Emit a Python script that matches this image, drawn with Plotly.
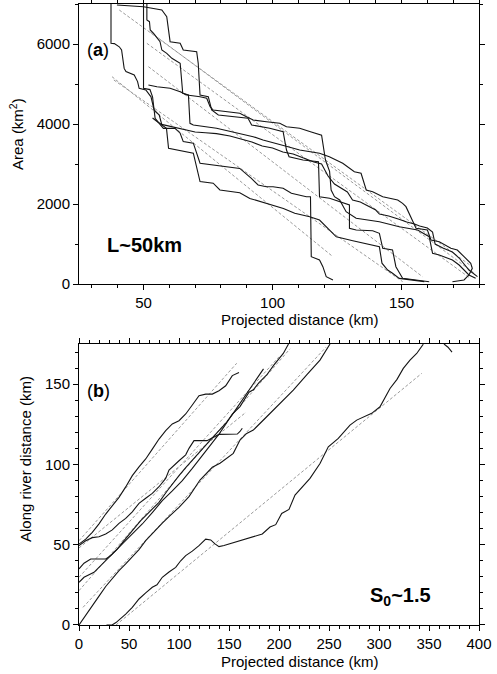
import plotly.graph_objects as go

# ---------------- Panel (a): Area vs projected distance ----------------
a1_x = [37.4,37.4,38.7,40.6,41.5,42.5,43.2,46.4,47.7,48.3,50.9,52.9,54.1,56.1,57.1,58.9,59.7,66.8,69.3,71.9,77.0,79.6,84.7,87.3,91.2,98.9,104.2,108.6,114.4,118.2,120.8,124.7,131.1,138.8,141.4,142.4,144.6,146.5,149.1,158.8]
a1_y = [7000,6020,6010,5930,5850,5390,5310,5225,5060,4890,4850,4680,4350,4225,3975,3890,3390,3310,3270,2560,2520,2350,2310,2280,2140,2000,1890,1770,1680,1600,1430,1180,1080,975,930,520,350,270,140,60]

a2_x = [50.0,50.0,52.5,53.5,54.5,57.7,62.2,64.2,65.4,69.3,71.9,78.3,83.5,87.3,91.8,94.4,97.6,100.2,104.1,107.3,113.1,114.7,115.0,118.2,119.5,120.8,123.4]
a2_y = [7000,4890,4860,4680,4140,3890,3890,3770,3560,3520,3020,2960,2930,2890,2640,2475,2433,2433,2392,2267,2183,2183,683,600,433,183,100]

a3_x = [39.7,50.0,57.1,59.0,60.3,64.2,65.4,70.6,71.2,71.9,75.1,76.4,79.0,84.7,90.5,91.9,98.9,104.1,105.4,106.4,111.8,117.8,118.2,122.1,126.0,128.0,129.8,129.8,132.4,138.8,141.4,142.7,146.5,147.8,150.4,160.7]
a3_y = [6975,6933,6850,6683,6058,6017,5850,5808,5517,4725,4683,4350,4225,4183,4142,3975,3892,3808,3350,3183,3100,3058,2183,2142,2050,2000,1975,1392,1350,1330,1267,892,850,433,142,58]

a4_x = [51.3,51.3,52.3,52.6,53.9,56.4,57.1,59.0,61.0,64.2,65.2,67.4,68.0,69.3,78.3,84.1,88.6,92.5,96.3,101.5,106.0,110.5,115.6,118.2,122.0,127.2,131.7,134.3,136.3,138.8,142.7,148.5,150.4,151.7,155.6,160.0,161.4,164.6,169.1,171.6,174.2,176.8,177.4,176.1,174.2,169.7]
a4_y = [7000,6600,6558,6350,6267,6058,5850,5767,5642,5517,4767,4725,4017,3975,3892,3808,3725,3683,3600,3517,3433,3350,3300,3267,3183,3017,2808,2767,2350,2308,2183,2100,2017,1933,1392,1350,1100,1058,892,850,683,517,392,225,100,58]

a5_x = [51.9,55.2,60.3,64.2,66.8,71.9,74.5,75.8,77.0,82.2,87.3,89.9,92.5,97.6,102.8,105.4,110.5,115.0,119.0,120.5,121.0,122.1,122.7,124.0,126.0,128.5,132.4,141.4,149.1,156.2,160.7,162.0,164.6,169.7,172.3,174.2,176.1,178.7]
a5_y = [4975,4933,4892,4808,4725,4683,4642,4433,4350,4308,4267,4183,4100,4058,4017,3933,3892,3800,3720,3100,3017,2817,2350,2183,2100,1808,1642,1558,1433,1350,1183,767,725,600,475,350,225,142]

a6_x = [53.5,54.3,55.5,57.0,60.0,63.0,66.0,70.0,74.0,78.3,83.5,87.3,92.0,96.0,100.0,104.0,108.0,112.0,116.0,119.0,121.5,124.0,126.5,129.0,131.0,134.0,137.0,140.0,141.4,145.0,149.0,152.0,155.0,157.0,160.0,162.0,163.0,166.0,169.7,172.3,174.2,176.1,179.4]
a6_y = [4150,4100,4050,3990,3950,3900,3870,3800,3780,3760,3700,3625,3550,3450,3400,3300,3250,3150,3050,3000,2700,2500,2400,2300,2100,2050,1950,1850,1750,1700,1620,1550,1500,1450,1400,1300,1000,900,800,650,500,350,183]

a_fit_x = [[40.6,177.4],[52.6,178.0],[51.3,176.5],[51.9,158.1],[37.8,123.4],[38.5,150.4]]
a_fit_y = [[6850,430],[6300,280],[6017,150],[5433,183],[5183,683],[5100,60]]

# ---------------- Panel (b): along-river vs projected distance ----------------
b1_x = [0,6.7,13.3,20,26.7,33.3,40,46.7,53.3,60,66.7,73.3,80,86.7,93.3,100,106.7,113.3,120,126.7,133.3,140,146.7,153.3,160]
b1_y = [50.4,53.5,57.7,63,69.1,74.5,79.5,86,93,98.5,103.4,109.5,115.8,121,125.2,127.2,131.4,137,142.8,143.8,143.8,145.9,149,155.3,157.3]

b2_x = [0,6.7,13.3,20,26.7,33.3,40,46.7,53.3,60,66.7,73.3,80,86.7,90,96.7,100,106.7,110,115,121,128,133,140,150,158.3,161,163.3]
b2_y = [49.4,52.5,54.4,55,56.7,59.2,63.3,66.4,70.5,75.8,78.9,82,86.1,91.3,96.5,100,102.3,106,110,114.8,114.8,114.8,116.5,118.7,118.8,118.9,120.5,122.5]

b3_x = [0,5,11.7,20,26.7,31.7,38.3,45,53.3,61.7,70,80,88.3,93.3,100,106.7,113,120,126.7,133.3,140,146.7,153.3,160,166.7,173.3,180,184.5]
b3_y = [34.9,38.5,41.1,41.2,41.1,43.2,47.3,52.5,58.7,65,70.2,76.4,83.6,87.8,93,98,102.5,107,112,116.5,121,125.5,131,137,143,149,155,159.5]

b4_x = [0,5,15,26.7,35,43.3,53.3,63.3,73.3,83.3,93.3,103.3,113.3,123.3,131.7,140,146.7,153.3,161,170,174.3,180,187.7,195,204.3,209.5]
b4_y = [26.6,29.7,32.8,40.1,45.5,50.4,56.5,62.9,70,77.4,83.5,89.9,97.5,105.4,112,118.9,125,131.4,136,145,146.5,151,155.7,162,169.1,175]

b5_x = [0,6.7,13.3,20,26.7,33.3,40,46.7,53.3,60,66.7,73.3,83.3,90,100,110,121,133.3,141,154.3,161,167.7,174.3,187.7,201,214.3,227.7,241,251]
b5_y = [0,5.8,11.8,18,24,29,33.8,38,42.5,47,52.5,57,63.5,67.5,73.3,80,90.3,98.2,100.7,106.9,115.2,119.3,121.4,129.7,138,146.3,155.7,165,175]

b6_x = [27.5,33,37,42,46.7,53.3,60,66.7,73.3,78,83.3,90,96.7,101.7,106.7,113.3,120,126.7,131.7,136,140,145,150,158,166.7,175,183.3,191,196.7,202.7,210,216,222,231,241,249.3,259.3,271,277.7,285,292.7,301,311,318,324.3,331,337.7,344.3]
b6_y = [0,0,1.5,4,6.8,11,16.2,20,23.5,25,29.7,33,35.9,40,43.2,46,49.4,53.5,53,50.5,48.8,49.5,50.4,52,53.5,55,56.7,61,62.5,69.5,72,80.9,85,91.3,100.6,111,116.2,124.5,127.6,129.5,131.8,135.9,147.3,153,159.8,165,169.1,174.9]

b7_x = [365,369,373]
b7_y = [175,173,170]

b_fit_x = [[0,157.7],[0,167],[0,200],[0,211],[4,247],[37,342.7]]
b_fit_y = [[52.5,163],[48,132.5],[29.7,167],[21.4,172],[11,173],[0,156.7]]

# ---------------- figure ----------------
FONT = "Liberation Sans, Arial, Helvetica, sans-serif"
SOLID = dict(color="#141414", width=1.1)
DASH = dict(color="#8f8f8f", width=0.9, dash="3px,2px")

fig = go.Figure()

for xs, ys in zip(a_fit_x, a_fit_y):
    fig.add_trace(go.Scatter(x=xs, y=ys, mode="lines", line=DASH, xaxis="x", yaxis="y", hoverinfo="skip"))
for xs, ys in [(a1_x, a1_y), (a2_x, a2_y), (a3_x, a3_y), (a4_x, a4_y), (a5_x, a5_y), (a6_x, a6_y)]:
    fig.add_trace(go.Scatter(x=xs, y=ys, mode="lines", line=SOLID, xaxis="x", yaxis="y"))

for xs, ys in zip(b_fit_x, b_fit_y):
    fig.add_trace(go.Scatter(x=xs, y=ys, mode="lines", line=DASH, xaxis="x2", yaxis="y2", hoverinfo="skip"))
for xs, ys in [(b1_x, b1_y), (b2_x, b2_y), (b3_x, b3_y), (b4_x, b4_y), (b5_x, b5_y), (b6_x, b6_y), (b7_x, b7_y)]:
    fig.add_trace(go.Scatter(x=xs, y=ys, mode="lines", line=SOLID, xaxis="x2", yaxis="y2"))

def ax(rng, dtick, minor, domain=None, anchor=None):
    d = dict(range=rng, dtick=dtick, tick0=0, showline=True, linecolor="black", linewidth=1,
             mirror="allticks", ticks="outside", ticklen=5, tickwidth=1, tickcolor="black",
             showgrid=False, zeroline=False, automargin=False,
             tickfont=dict(family=FONT, size=15, color="black"),
             minor=dict(ticks="outside", ticklen=3, tickwidth=1, tickcolor="black", dtick=minor, tick0=0, showgrid=False))
    if domain is not None:
        d["domain"] = domain
    if anchor is not None:
        d["anchor"] = anchor
    return d

fig.update_layout(
    template="none",
    width=497, height=674,
    margin=dict(l=79, r=18, t=4, b=49, pad=0, autoexpand=False),
    paper_bgcolor="white", plot_bgcolor="white",
    showlegend=False,
    font=dict(family=FONT, color="black"),
    xaxis=ax([25, 180], 50, 10, domain=[0, 1], anchor="y"),
    yaxis=ax([0, 7000], 2000, 1000, domain=[0.5491, 1.0], anchor="x"),
    xaxis2=ax([0, 400], 50, 10, domain=[0, 1], anchor="y2"),
    yaxis2=ax([0, 175], 50, 10, domain=[0.0, 0.4525], anchor="x2"),
)

ann = [
    dict(text="Projected distance (km)", xref="paper", yref="paper", x=0.5525, y=0.4915, font_size=15),
    dict(text="Projected distance (km)", xref="paper", yref="paper", x=0.5525, y=-0.0580, font_size=15),
    dict(text="Area (km<sup>2</sup>)", xref="paper", yref="paper", x=-0.155, y=0.7907, font_size=15, textangle=-90),
    dict(text="Along river distance (km)", xref="paper", yref="paper", x=-0.135, y=0.2673, font_size=15, textangle=-90),
    dict(text="(<b>a</b>)", xref="x", yref="y", x=32.4, y=5850, font_size=18),
    dict(text="<b>L~50km</b>", xref="x", yref="y", x=50.4, y=975, font_size=20),
    dict(text="(<b>b</b>)", xref="x2", yref="y2", x=19, y=145.8, font_size=18),
    dict(text="<b>S<sub>0</sub>~1.5</b>", xref="x2", yref="y2", x=321, y=18, font_size=20),
]
for a in ann:
    fs = a.pop("font_size")
    fig.add_annotation(**a, showarrow=False, xanchor="center", yanchor="middle",
                       font=dict(family=FONT, size=fs, color="black"))

fig.write_html("out.html", config={"displayModeBar": False},
               post_script="document.body.style.margin='0px';document.body.style.padding='0px';")
